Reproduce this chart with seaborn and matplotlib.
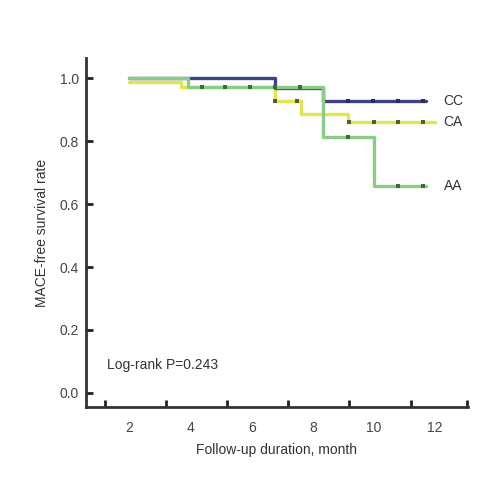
import numpy as np
import pandas as pd
import matplotlib
matplotlib.use("Agg")
import matplotlib.pyplot as plt
import seaborn as sns

# ---- data ----
groups = ["CC", "CA", "AA"]
cc_time = [2.0, 6.77, 8.35, 11.7]
cc_surv = [1.0, 0.970, 0.927, 0.927]
ca_time = [2.0, 3.70, 6.77, 7.60, 9.15, 12.0]
ca_surv = [0.99, 0.972, 0.927, 0.886, 0.863, 0.863]
aa_time = [2.0, 3.92, 8.35, 10.0, 11.7]
aa_surv = [1.0, 0.972, 0.814, 0.657, 0.657]
cc_cens = [9.15, 9.97, 10.8, 11.6]
ca_cens = [6.77, 7.50, 9.20, 10.0, 10.8, 11.6]
aa_cens = [4.37, 5.14, 5.96, 6.77, 7.58, 9.15, 10.8, 11.6]
x_tick_labels = [2, 4, 6, 8, 10, 12]
y_tick_labels = [0.0, 0.2, 0.4, 0.6, 0.8, 1.0]
p_text = "Log-rank P=0.243"

sns.set_theme(style="white")
plt.rcParams["font.family"] = ["Liberation Sans", "DejaVu Sans"]

times = {"CC": cc_time, "CA": ca_time, "AA": aa_time}
survs = {"CC": cc_surv, "CA": ca_surv, "AA": aa_surv}
cens = {"CC": cc_cens, "CA": ca_cens, "AA": aa_cens}

rows, crow = [], []
for g in groups:
    for t, s in zip(times[g], survs[g]):
        rows.append({"time": t, "surv": s, "group": g})
    tt = np.array(times[g]); ss = np.array(survs[g])
    for c in cens[g]:
        idx = np.searchsorted(tt, c, side="right") - 1
        crow.append({"time": c, "surv": ss[idx], "group": g})
df = pd.DataFrame(rows)
cdf = pd.DataFrame(crow)

line_pal = {"CC": "#3d4283", "CA": "#e4e44c", "AA": "#8ccb86"}
mark_pal = {"CC": "#2a2e5e", "CA": "#5a5a3a", "AA": "#3f6a3c"}

fig = plt.figure(figsize=(5, 5), dpi=100)
ax = fig.add_axes([0.172, 0.186, 0.764, 0.698])

order = ["CA", "CC", "AA"]
for g in order:
    sub = df[df.group == g]
    sns.lineplot(data=sub, x="time", y="surv", color=line_pal[g], lw=2.4,
                 drawstyle="steps-post", estimator=None, ax=ax, legend=False)
for g in order:
    sub = cdf[cdf.group == g]
    sns.scatterplot(data=sub, x="time", y="surv", color=mark_pal[g], marker="s",
                    s=10, linewidth=0, ax=ax, legend=False, zorder=5)

for g in groups:
    ax.text(12.6, survs[g][-1], g, ha="center", va="center", fontsize=10, color="#333333")

ax.text(1.27, 0.089, p_text, ha="left", va="center", fontsize=10, color="#333333")

ax.set_xlim(0.58, 13.08)
ax.set_ylim(-0.045, 1.065)
ax.set_xticks(x_tick_labels)
ax.set_xticklabels([str(v) for v in x_tick_labels])
ax.set_xticks([1.2, 3.2, 5.2, 7.2, 9.2, 11.2, 13.05], minor=True)
ax.set_yticks(y_tick_labels)
ax.set_yticklabels([f"{v:.1f}" for v in y_tick_labels])
ax.tick_params(bottom=True, left=True)
ax.tick_params(axis="x", which="major", length=0, pad=10, labelsize=10, labelcolor="#444444")
ax.tick_params(axis="x", which="minor", bottom=True, length=5, width=2, direction="in", color="#222222")
ax.tick_params(axis="y", which="major", length=5, width=2, direction="in", pad=5,
               labelsize=10, labelcolor="#444444", color="#222222")
for sp in ["top", "right"]:
    ax.spines[sp].set_visible(False)
for sp in ["left", "bottom"]:
    ax.spines[sp].set_linewidth(2)
    ax.spines[sp].set_color("#333333")
ax.set_xlabel("Follow-up duration, month", fontsize=10, color="#333333", labelpad=6)
ax.set_ylabel("MACE-free survival rate", fontsize=10, color="#333333", labelpad=8)

fig.savefig("out.png", dpi=100)
